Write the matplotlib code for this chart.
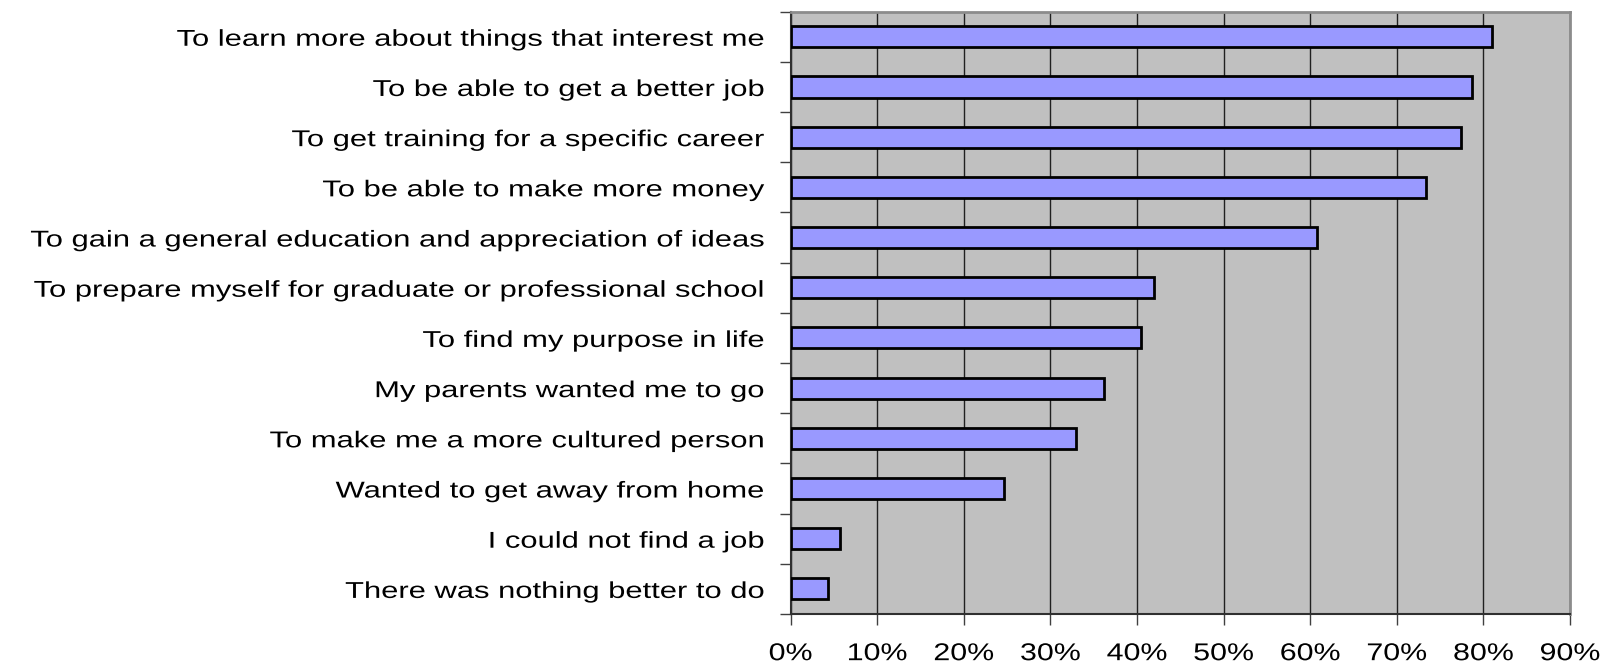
import numpy as np
import matplotlib
matplotlib.use("Agg")
import matplotlib.pyplot as plt
from matplotlib.ticker import FixedLocator, PercentFormatter
from matplotlib.patheffects import AbstractPathEffect
from matplotlib.transforms import Affine2D
from matplotlib.path import Path

reasons = [
    "To learn more about things that interest me",
    "To be able to get a better job",
    "To get training for a specific career",
    "To be able to make more money",
    "To gain a general education and appreciation of ideas",
    "To prepare myself for graduate or professional school",
    "To find my purpose in life",
    "My parents wanted me to go",
    "To make me a more cultured person",
    "Wanted to get away from home",
    "I could not find a job",
    "There was nothing better to do",
]
share = [81.0, 78.7, 77.4, 73.4, 60.8, 41.9, 40.5, 36.2, 33.0, 24.6, 5.7, 4.3]


class Widen(AbstractPathEffect):
    """Stretch text glyphs sideways, keeping the right edge or centre fixed."""

    def __init__(self, sx, anchor='right'):
        super().__init__()
        self.sx = sx
        self.anchor = anchor

    def draw_path(self, renderer, gc, tpath, affine, rgbFace=None):
        verts = tpath.vertices
        if tpath.codes is not None:
            verts = verts[tpath.codes != Path.CLOSEPOLY]
        xs = affine.transform(verts)[:, 0]
        if self.anchor == 'right':
            x0 = xs.max()
        else:
            x0 = 0.5 * (xs.min() + xs.max())
        stretch = Affine2D().translate(-x0, 0).scale(self.sx, 1).translate(x0, 0)
        renderer.draw_path(gc, tpath, affine + stretch, rgbFace)


plt.rcParams['font.family'] = ['Liberation Sans', 'DejaVu Sans']

fig = plt.figure(figsize=(16.08, 6.63), dpi=100)
ax = fig.add_axes([0.4917, 0.0739, 0.4847, 0.9085])

ypos = np.arange(len(reasons))
ax.set_facecolor('#c0c0c0')
ax.set_axisbelow(True)
ax.xaxis.grid(True, color='#202020', linewidth=1.0)
ax.barh(ypos, share, height=0.42, color='#9999ff', edgecolor='black', linewidth=2, zorder=3)

ax.set_xlim(0, 90)
ax.set_ylim(len(reasons) - 0.5, -0.5)
ax.xaxis.set_major_locator(FixedLocator(np.arange(0, 91, 10)))
ax.xaxis.set_major_formatter(PercentFormatter(decimals=0))

ax.set_yticks(ypos)
ax.set_yticklabels(reasons)
ax.yaxis.set_minor_locator(FixedLocator(np.arange(-0.5, len(reasons), 1.0)))
ax.tick_params(axis='y', which='major', length=0, pad=19, labelsize=16.5)
ax.tick_params(axis='y', which='minor', length=8, width=1, color='#404040')
ax.tick_params(axis='x', length=8, width=1, color='#404040', pad=13, labelsize=17.5)

for lbl in ax.get_yticklabels():
    lbl.set_path_effects([Widen(1.35, 'right')])
for lbl in ax.get_xticklabels():
    lbl.set_path_effects([Widen(1.25, 'center')])

for side in ('top', 'right'):
    ax.spines[side].set_color('#8c8c8c')
    ax.spines[side].set_linewidth(2)
ax.spines['left'].set_color('#303030')
ax.spines['bottom'].set_color('#303030')
ax.spines['left'].set_linewidth(1.5)
ax.spines['bottom'].set_linewidth(1.5)

fig.savefig('out.png', dpi=100)
